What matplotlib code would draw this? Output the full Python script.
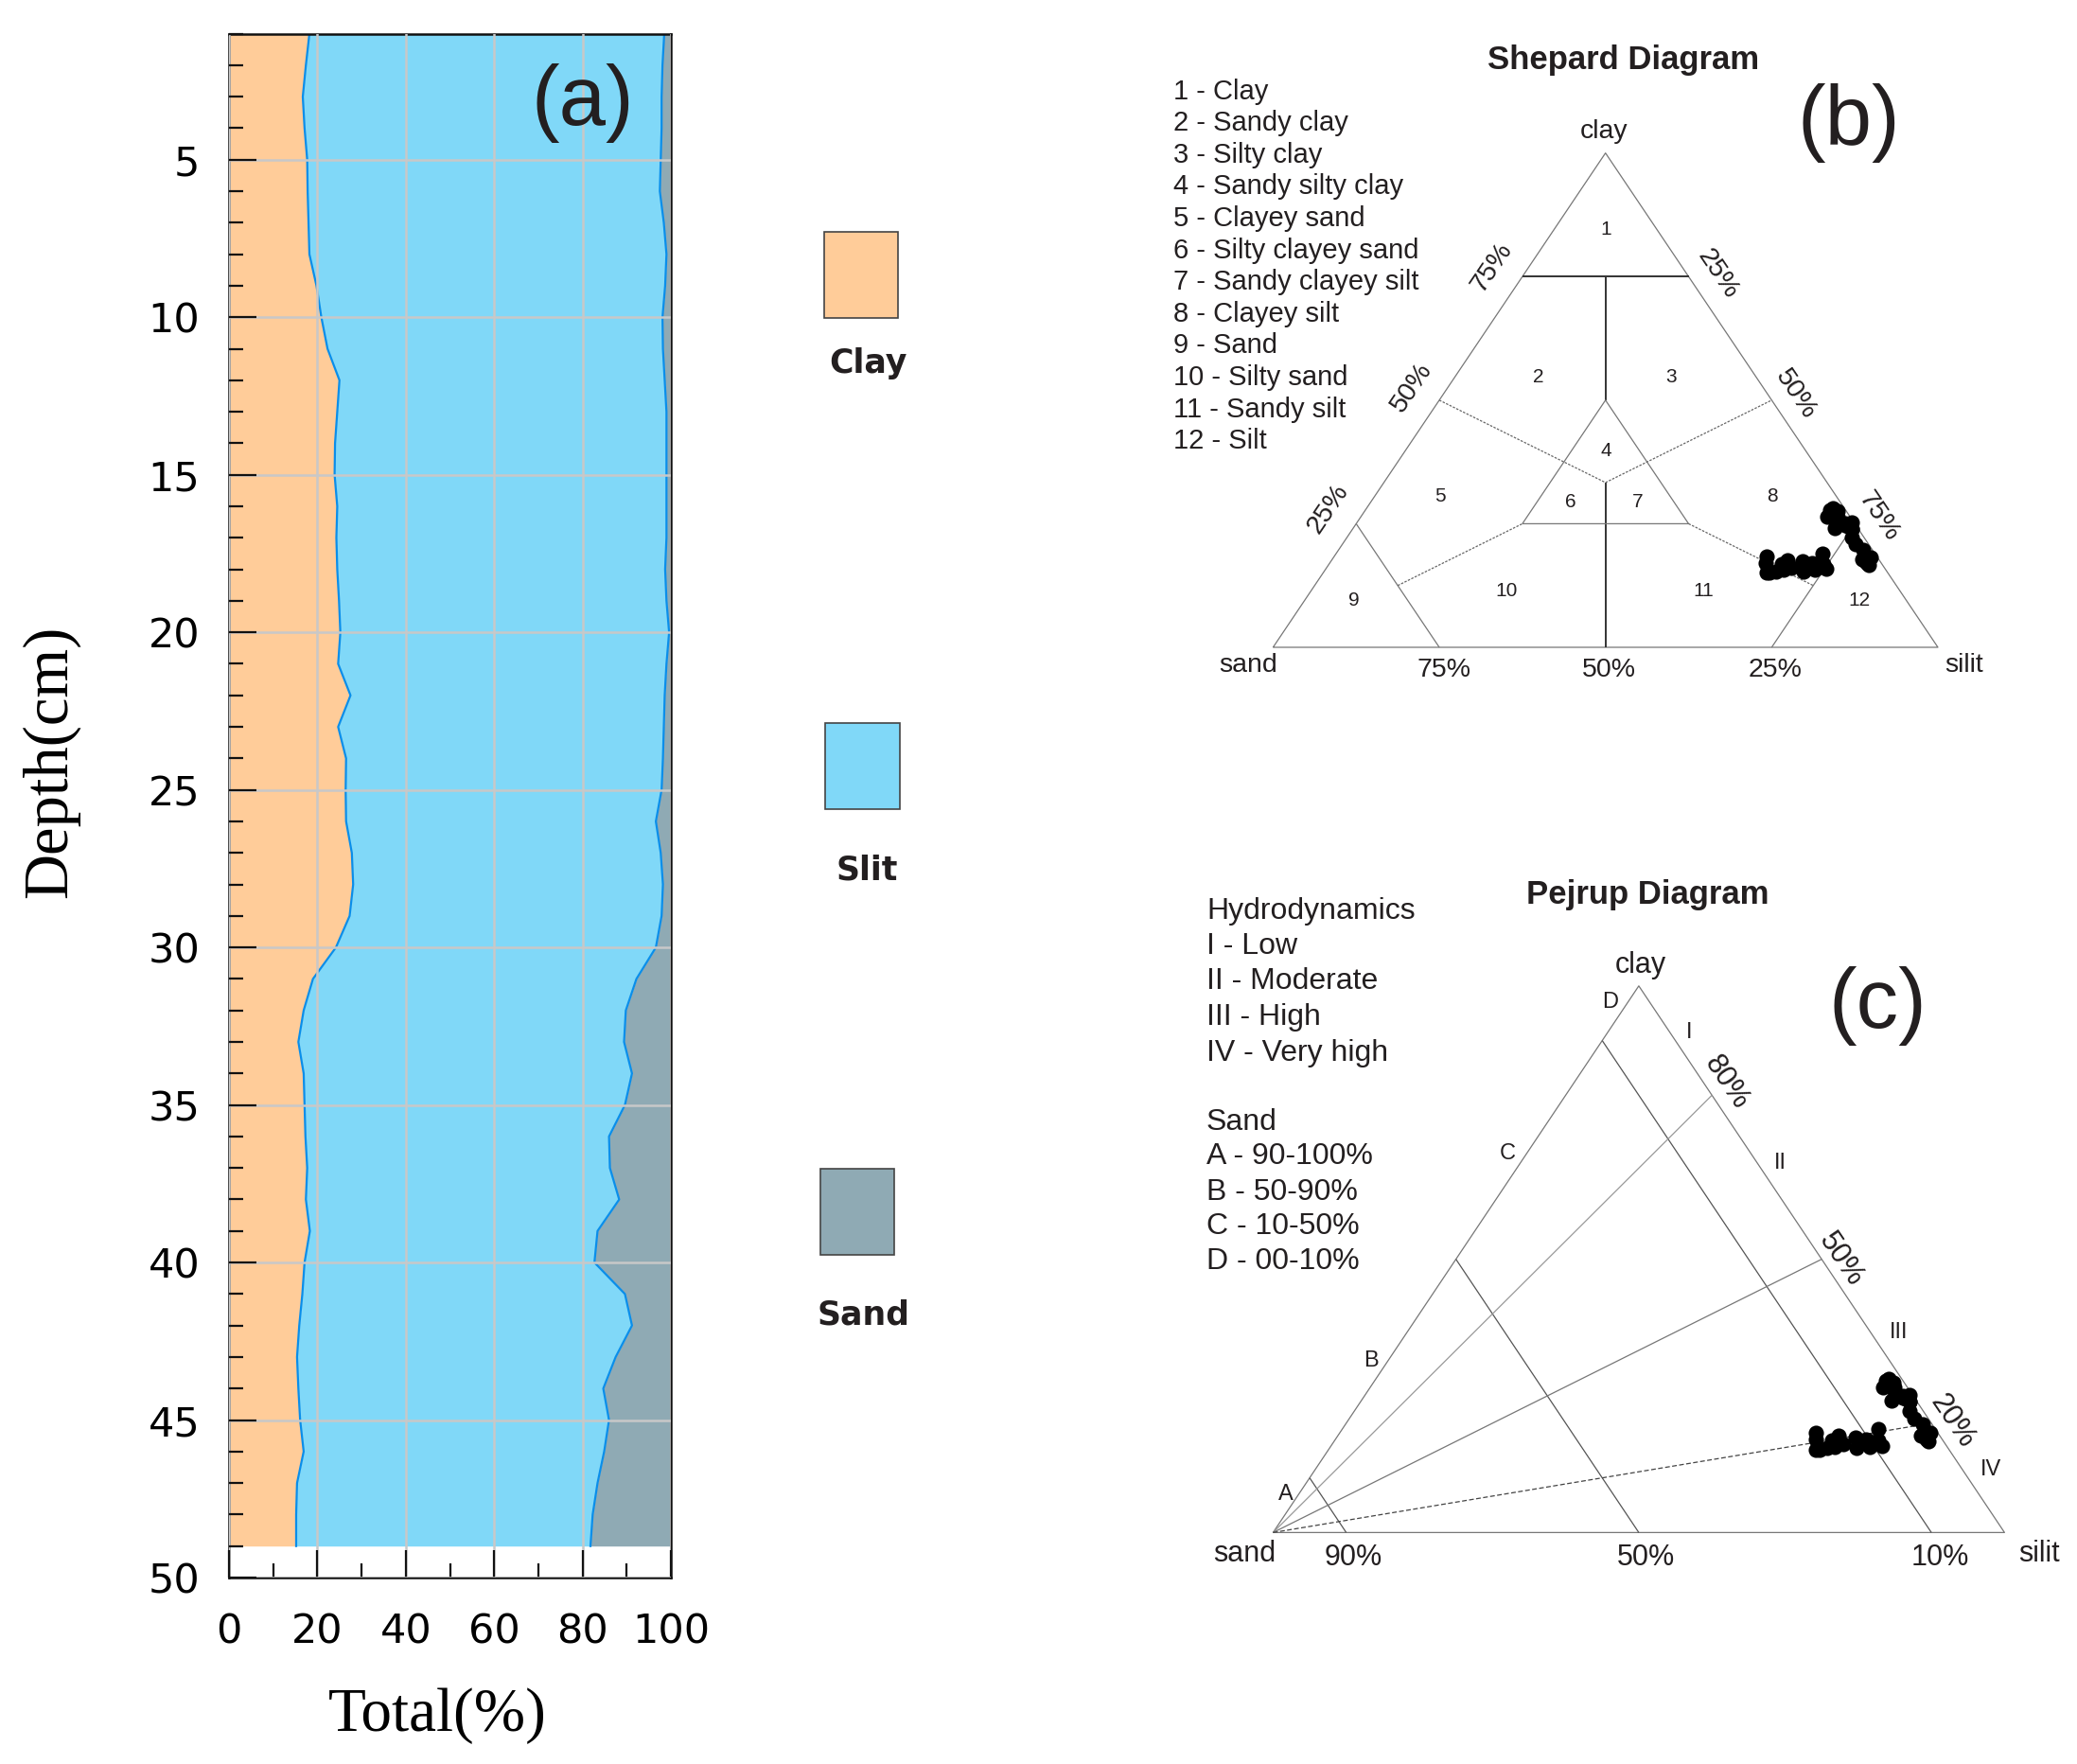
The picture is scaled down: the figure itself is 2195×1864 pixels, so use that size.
import matplotlib
matplotlib.use("Agg")
import matplotlib.pyplot as plt
import numpy as np
from matplotlib.patches import Rectangle

# grain size profile, 1 cm steps
depth = list(range(1, 50))
clay = [18.2, 17.4, 16.7, 17.1, 17.7, 17.8, 18.0, 18.2, 19.8, 20.9,
        22.3, 25.0, 24.5, 24.0, 23.9, 24.5, 24.3, 24.5, 24.9, 25.2,
        24.7, 27.5, 24.7, 26.5, 26.4, 26.5, 27.8, 28.1, 27.3, 24.2,
        19.0, 16.9, 15.7, 16.9, 17.1, 17.3, 17.7, 17.4, 18.3, 17.1,
        16.6, 15.9, 15.4, 15.7, 16.1, 16.9, 15.4, 15.2, 15.2]
silt = [80.3, 80.7, 81.2, 80.8, 80.0, 79.7, 80.4, 80.8, 78.9, 77.2,
        75.9, 73.6, 74.5, 75.0, 75.1, 74.5, 74.7, 74.2, 74.1, 74.4,
        74.3, 71.1, 73.7, 71.7, 71.5, 70.1, 69.9, 70.1, 70.6, 72.4,
        73.2, 72.9, 73.7, 74.3, 72.5, 68.7, 68.5, 70.9, 65.1, 65.6,
        73.0, 75.3, 72.1, 69.0, 69.9, 68.0, 68.0, 67.1, 66.6]
sand = [1.5, 1.9, 2.1, 2.1, 2.3, 2.5, 1.6, 1.0, 1.3, 1.9,
        1.8, 1.4, 1.0, 1.0, 1.0, 1.0, 1.0, 1.3, 1.0, 0.4,
        1.0, 1.4, 1.6, 1.8, 2.1, 3.4, 2.3, 1.8, 2.1, 3.4,
        7.8, 10.2, 10.6, 8.8, 10.4, 14.0, 13.8, 11.7, 16.6, 17.3,
        10.4, 8.8, 12.5, 15.3, 14.0, 15.1, 16.6, 17.7, 18.2]

legend_names = ["Clay", "Slit", "Sand"]

shepard_classes = ["1 - Clay", "2 - Sandy clay", "3 - Silty clay", "4 - Sandy silty clay",
                   "5 - Clayey sand", "6 - Silty clayey sand", "7 - Sandy clayey silt",
                   "8 - Clayey silt", "9 - Sand", "10 - Silty sand", "11 - Sandy silt",
                   "12 - Silt"]
pejrup_notes = ["Hydrodynamics", "I - Low", "II - Moderate", "III - High", "IV - Very high",
                "Sand", "A - 90-100%", "B - 50-90%", "C - 10-50%", "D - 00-10%"]

C_CLAY = "#FFCC99"
C_SILT = "#80D8F8"
C_SAND = "#8FAAB4"
C_LINE = "#0A8EEA"
TXT = "#231F20"

W, H = 2195, 1864
fig = plt.figure(figsize=(W / 100, H / 100), dpi=100)


def box(x0, y0, x1, y1):
    return [x0 / W, 1 - y1 / H, (x1 - x0) / W, (y1 - y0) / H]


def ptext(px, py, s, **kw):
    kw.setdefault("ha", "center")
    kw.setdefault("va", "center")
    kw.setdefault("family", "Liberation Sans")
    kw.setdefault("color", TXT)
    return fig.text(px / W, 1 - py / H, s, **kw)


# ---------------- panel (a) ----------------
ax = fig.add_axes(box(242, 35.6, 709, 1667))
cl = np.array(clay)
top = cl + np.array(silt)
ax.fill_betweenx(depth, 0, cl, color=C_CLAY, lw=0)
ax.fill_betweenx(depth, cl, top, color=C_SILT, lw=0)
ax.fill_betweenx(depth, top, 100, color=C_SAND, lw=0)
ax.plot(cl, depth, color=C_LINE, lw=1.6)
ax.plot(top, depth, color=C_LINE, lw=1.6)
ax.set_xlim(0, 100)
ax.set_ylim(50, 1)
ax.set_xticks(range(0, 101, 20))
ax.set_xticks(range(10, 100, 20), minor=True)
ax.set_yticks(range(5, 51, 5))
ax.set_yticks(range(1, 50), minor=True)
ax.set_axisbelow(False)
ax.grid(True, which="major", color="#C8C8C8", lw=1.8)
ax.tick_params(which="both", direction="in", top=False, right=False,
               width=1.6, color="#111111")
ax.tick_params(which="major", length=21)
ax.tick_params(which="minor", length=11)
ax.tick_params(axis="y", pad=22, labelsize=31)
ax.tick_params(axis="x", pad=26, labelsize=31)
for sp in ax.spines.values():
    sp.set_linewidth(1.8)
    sp.set_color("#111111")

ptext(616, 109, "(a)", fontsize=64)
ptext(53, 805, "Depth(cm)", rotation=90, fontsize=48, family="Liberation Serif", color="black")
ptext(462, 1813, "Total(%)", fontsize=47, family="Liberation Serif", color="black")

# legend squares
for (x0, y0, x1, y1), col, name, (lx, ly) in zip(
        [(871, 245, 949, 336), (872, 764, 951, 855), (867, 1235, 945, 1326)],
        [C_CLAY, C_SILT, C_SAND], legend_names,
        [(917, 384), (916, 920), (913, 1389)]):
    fig.add_artist(Rectangle((x0 / W, 1 - y1 / H), (x1 - x0) / W, (y1 - y0) / H,
                             transform=fig.transFigure, facecolor=col,
                             edgecolor="#444444", lw=1.2))
    ptext(lx, ly, name, fontsize=25, fontweight="bold", family="DejaVu Sans")


def tern(sd, st, cy):
    sd, st, cy = (np.asarray(v, dtype=float) for v in (sd, st, cy))
    tot = sd + st + cy
    return (st + cy / 2) / tot, cy / tot


def tline(a, comps, **kw):
    c = np.array(comps, dtype=float)
    x, y = tern(c[:, 0], c[:, 1], c[:, 2])
    a.plot(x, y, clip_on=False, solid_capstyle="butt", **kw)


# ---------------- panel (b) Shepard ----------------
axb = fig.add_axes(box(1345.4, 161.7, 2048, 684))
axb.set_xlim(0, 1)
axb.set_ylim(0, 1)
axb.axis("off")
thin = dict(color="#777777", lw=0.9)
dots = dict(color="#666666", lw=0.9, ls=(0, (2, 1.2)))
dark = dict(color="#333333", lw=1.4)
third = 100 / 3
tline(axb, [(100, 0, 0), (0, 100, 0), (0, 0, 100), (100, 0, 0)], **thin)
tline(axb, [(25, 0, 75), (0, 25, 75)], **dark)
tline(axb, [(12.5, 12.5, 75), (25, 25, 50)], **dark)
tline(axb, [(third, third, third), (50, 50, 0)], **dark)
tline(axb, [(50, 25, 25), (25, 25, 50), (25, 50, 25), (50, 25, 25)], **thin)
tline(axb, [(50, 0, 50), (third, third, third), (0, 50, 50)], **dots)
tline(axb, [(75, 0, 25), (75, 25, 0)], **thin)
tline(axb, [(0, 75, 25), (25, 75, 0)], **thin)
tline(axb, [(75, 12.5, 12.5), (50, 25, 25)], **dots)
tline(axb, [(25, 50, 25), (12.5, 75, 12.5)], **dots)
axb.scatter(*tern(sand, silt, clay), s=135, c="black", lw=0, zorder=5, clip_on=False)

ptext(1716, 64, "Shepard Diagram", fontsize=25, fontweight="bold")
ptext(1954, 130, "(b)", fontsize=64)
for i, s in enumerate(shepard_classes):
    ptext(1240, 96.6 + i * 33.6, s, fontsize=21, ha="left")
for (px, py), s in zip([(1695, 139), (1319, 703), (2076, 703)], ["clay", "sand", "silit"]):
    ptext(px, py, s, fontsize=20.5)
for px, s in zip([1526, 1700, 1876], ["75%", "50%", "25%"]):
    ptext(px, 708, s, fontsize=20.5)
for (px, py), s in zip([(1577, 282), (1492, 409), (1404, 538)], ["75%", "50%", "25%"]):
    ptext(px, py, s, fontsize=20.5, rotation=56, rotation_mode="anchor")
for (px, py), s in zip([(1815, 290), (1898, 417), (1985, 546)], ["25%", "50%", "75%"]):
    ptext(px, py, s, fontsize=20.5, rotation=-56, rotation_mode="anchor")
region_xy = [(1697, 242), (1626, 398), (1766, 398), (1697, 476), (1522, 525), (1660, 530),
             (1731, 530), (1873, 525), (1431, 634), (1592, 624), (1800, 624), (1965, 634)]
for i, (px, py) in enumerate(region_xy):
    ptext(px, py, str(i + 1), fontsize=15)

# ---------------- panel (c) Pejrup ----------------
axc = fig.add_axes(box(1345.4, 1041.8, 2118.4, 1619.4))
axc.set_xlim(0, 1)
axc.set_ylim(0, 1)
axc.axis("off")
tline(axc, [(100, 0, 0), (0, 100, 0), (0, 0, 100), (100, 0, 0)], **thin)
for sp in (90, 50, 10):
    tline(axc, [(sp, 100 - sp, 0), (sp, 0, 100 - sp)], color="#555555", lw=0.9)
tline(axc, [(100, 0, 0), (0, 20, 80)], color="#999999", lw=0.9)
tline(axc, [(100, 0, 0), (0, 50, 50)], color="#777777", lw=0.9)
tline(axc, [(100, 0, 0), (0, 80, 20)], color="#444444", lw=0.9, ls=(0, (4, 2)))
axc.scatter(*tern(sand, silt, clay), s=135, c="black", lw=0, zorder=5, clip_on=False)

ptext(1741, 946, "Pejrup Diagram", fontsize=25, fontweight="bold")
ptext(1984, 1063, "(c)", fontsize=64)
for py, s in zip([963, 1000, 1037, 1075, 1113, 1186, 1222, 1260, 1296, 1333], pejrup_notes):
    ptext(1275, py, s, fontsize=23, ha="left")
for (px, py), s in zip([(1734, 1020), (1315, 1642), (2155, 1642)], ["clay", "sand", "silit"]):
    ptext(px, py, s, fontsize=22)
for px, s in zip([1430, 1739, 2050], ["90%", "50%", "10%"]):
    ptext(px, 1646, s, fontsize=22)
for (px, py), s in zip([(1359, 1579), (1449, 1438), (1593, 1219), (1702, 1059)], "ABCD"):
    ptext(px, py, s, fontsize=17)
for (px, py), s in zip([(1785, 1091), (1881, 1229), (2007, 1408), (2104, 1553)],
                       ["I", "II", "III", "IV"]):
    ptext(px, py, s, fontsize=17)
for (px, py), s in zip([(1824, 1144), (1946, 1331), (2063, 1502)], ["80%", "50%", "20%"]):
    ptext(px, py, s, fontsize=22, rotation=-56, rotation_mode="anchor")

fig.savefig("out.png", dpi=100, facecolor="white")
